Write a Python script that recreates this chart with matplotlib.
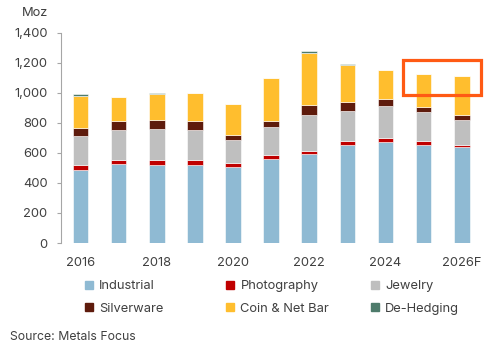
import matplotlib.pyplot as plt
from matplotlib.patches import Rectangle, Patch
import numpy as np

plt.rcParams['font.family'] = ['Inter', 'DejaVu Sans']

years = ['2016', '2017', '2018', '2019', '2020', '2021', '2022', '2023', '2024', '2025', '2026F']
industrial = [487, 527, 523, 523, 509, 561, 590, 656, 676, 656, 639]
photography = [36, 29, 31, 31, 25, 26, 24, 27, 25, 23, 17]
jewelry = [187, 196, 205, 200, 154, 185, 238, 200, 209, 191, 165]
silverware = [56, 58, 64, 60, 31, 38, 69, 54, 49, 38, 31]
coin_bar = [215, 163, 167, 189, 207, 287, 345, 247, 191, 220, 258]
dehedging = [12, 0, 11, 0, 0, 4, 16, 11, 5, 0, 0]

series = [
    ('Industrial', industrial, '#8FBAD3'),
    ('Photography', photography, '#C00000'),
    ('Jewelry', jewelry, '#BFBFBF'),
    ('Silverware', silverware, '#5E1B0C'),
    ('Coin & Net Bar', coin_bar, '#FFBE2E'),
    ('De-Hedging', dehedging, '#4E7B6B'),
]

txt = '#404040'

fig = plt.figure(figsize=(4.96, 3.47), dpi=100)
ax = fig.add_axes([0.1224, 0.2997, 0.8486, 0.6053])

x = np.arange(len(years))
bottom = np.zeros(len(years))
for name, vals, col in series:
    ax.bar(x, vals, 0.41, bottom=bottom, color=col, edgecolor='white', linewidth=0.4, label=name)
    bottom += np.array(vals)

# highlight box around the forecast years
ax.add_patch(Rectangle((8.45, 986), 2.05, 231, fill=False, edgecolor='#FF5A14',
                       linewidth=2.3, clip_on=False, zorder=5))

ax.set_xlim(-0.52, 10.52)
ax.set_ylim(0, 1400)
ax.set_yticks(np.arange(0, 1401, 200))
ax.set_yticklabels([f'{v:,}' for v in range(0, 1401, 200)])
ax.set_xticks(x[::2])
ax.set_xticklabels(years[::2])

for s in ['top', 'right', 'bottom']:
    ax.spines[s].set_visible(False)
ax.spines['left'].set_color('#A6A6A6')
ax.spines['left'].set_linewidth(0.8)
ax.tick_params(axis='y', colors='#A6A6A6', labelcolor=txt, labelsize=9.3, length=3, pad=6.5)
ax.tick_params(axis='x', length=0, labelcolor=txt, labelsize=9.3, pad=10)

fig.text(0.071, 0.962, 'Moz', color=txt, fontsize=9.3, ha='center', va='center')

# legend: three columns placed at fixed positions, two rows each
handles = [Patch(color=c, label=n) for n, v, c in series]
col_x = [0.171, 0.456, 0.748]
for k, cx in enumerate(col_x):
    idx = [k, k + 3]
    fig.legend([handles[i] for i in idx], [series[i][0] for i in idx],
               loc='center left', bbox_to_anchor=(cx, 0.143), frameon=False,
               fontsize=9.3, labelcolor=txt, handlelength=0.6, handleheight=0.6,
               handletextpad=0.5, labelspacing=0.8, borderpad=0, borderaxespad=0)

fig.text(0.02, 0.03, 'Source: Metals Focus', color=txt, fontsize=8.8, ha='left', va='center')

fig.savefig('out.png', dpi=100)
